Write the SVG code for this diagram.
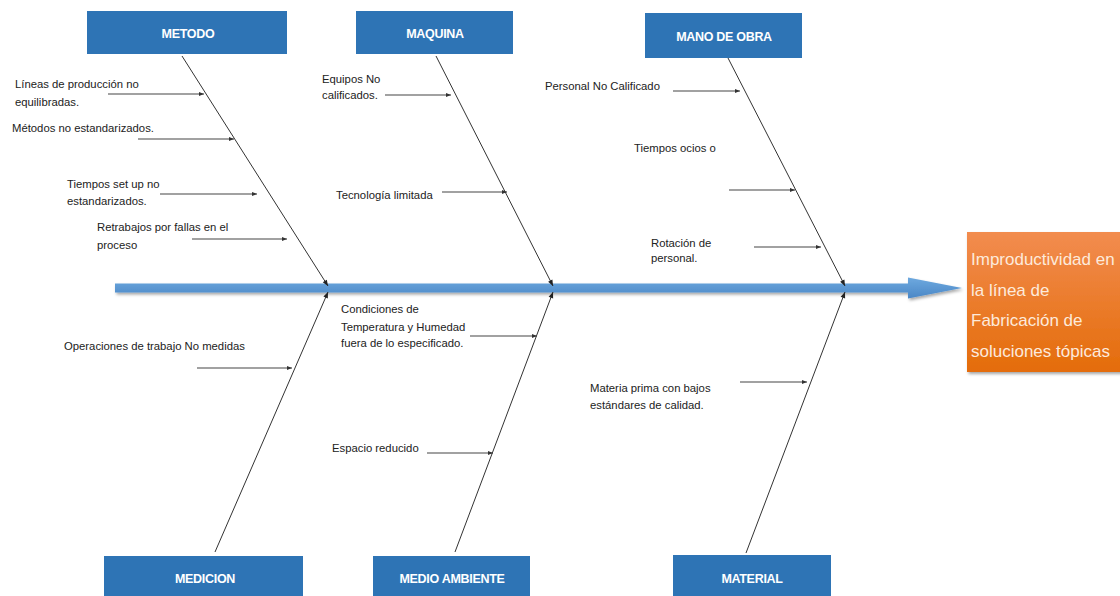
<svg xmlns="http://www.w3.org/2000/svg" width="1120" height="596" viewBox="0 0 1120 596">
<defs>
<style>
.cat{fill:#2e74b5;}
.cat-t{font-family:"Liberation Sans",Arial,sans-serif;font-weight:bold;font-size:12.5px;fill:#ffffff;text-anchor:middle;letter-spacing:-0.3px;}
.lbl{font-family:"Liberation Sans",Arial,sans-serif;font-size:11.3px;fill:#222222;}
.bone{stroke:#333333;stroke-width:1;fill:none;marker-end:url(#ah);}
.sub{stroke:#444444;stroke-width:1.2;fill:none;marker-end:url(#ah2);}
.eff{font-family:"Liberation Sans",Arial,sans-serif;font-size:17px;fill:#fdeadb;}
</style>
<marker id="ah" viewBox="0 0 10 10" refX="10" refY="5" markerWidth="8" markerHeight="6" markerUnits="userSpaceOnUse" orient="auto">
<path d="M0,1 L10,5 L0,9 Z" fill="#222222"/>
</marker>
<marker id="ah2" viewBox="0 0 10 10" refX="10" refY="5" markerWidth="9" markerHeight="5" markerUnits="userSpaceOnUse" orient="auto">
<path d="M0,1 L10,5 L0,9 Z" fill="#333333"/>
</marker>
<linearGradient id="spineG" x1="0" y1="0" x2="0" y2="1">
<stop offset="0" stop-color="#6ea9df"/>
<stop offset="1" stop-color="#4a87c6"/>
</linearGradient>
<linearGradient id="effG" x1="0" y1="0" x2="0" y2="1">
<stop offset="0" stop-color="#f28c4f"/>
<stop offset="1" stop-color="#e46c0a"/>
</linearGradient>
<filter id="sh" x="-5%" y="-20%" width="115%" height="160%">
<feDropShadow dx="1.5" dy="2" stdDeviation="1.5" flood-color="#000000" flood-opacity="0.35"/>
</filter>
</defs>
<rect width="1120" height="596" fill="#ffffff"/>

<g id="spine">
<path d="M115,283.5 L908,283.5 L908,277.5 L962,288 L908,298.5 L908,292.5 L115,292.5 Z" fill="url(#spineG)" filter="url(#sh)"/>
</g>

<g id="effect">
<rect x="967" y="232" width="170" height="140" fill="url(#effG)" filter="url(#sh)"/>
<text class="eff" x="971" y="265">Improductividad en</text>
<text class="eff" x="971" y="296">la línea de</text>
<text class="eff" x="971" y="326">Fabricación de</text>
<text class="eff" x="971" y="357">soluciones tópicas</text>
</g>

<g id="metodo">
<rect class="cat" x="87" y="11" width="200" height="43"/>
<text class="cat-t" x="188" y="38">METODO</text>
</g>
<g id="maquina">
<rect class="cat" x="356" y="11" width="157" height="43"/>
<text class="cat-t" x="435" y="38">MAQUINA</text>
</g>
<g id="mano-de-obra">
<rect class="cat" x="645" y="13" width="157" height="45"/>
<text class="cat-t" x="724" y="41">MANO DE OBRA</text>
</g>
<g id="medicion">
<rect class="cat" x="104" y="556" width="199" height="45"/>
<text class="cat-t" x="205" y="583">MEDICION</text>
</g>
<g id="medio-ambiente">
<rect class="cat" x="373" y="556" width="157" height="45"/>
<text class="cat-t" x="452" y="583">MEDIO AMBIENTE</text>
</g>
<g id="material">
<rect class="cat" x="673" y="555" width="158" height="45"/>
<text class="cat-t" x="752" y="583">MATERIAL</text>
</g>

<g id="connectors">
<line class="bone" x1="182" y1="56" x2="328" y2="286"/>
<line class="bone" x1="436" y1="56" x2="553" y2="286"/>
<line class="bone" x1="728" y1="58" x2="845" y2="286"/>
<line class="bone" x1="215" y1="552" x2="328" y2="292"/>
<line class="bone" x1="455" y1="552" x2="553" y2="292"/>
<line class="bone" x1="746" y1="553" x2="845" y2="292"/>

<line class="sub" x1="108" y1="94" x2="204" y2="94"/>
<line class="sub" x1="138" y1="139" x2="234" y2="139"/>
<line class="sub" x1="160" y1="194" x2="257" y2="194"/>
<line class="sub" x1="192" y1="239" x2="287" y2="239"/>
<line class="sub" x1="385" y1="95" x2="451" y2="95"/>
<line class="sub" x1="442" y1="192" x2="507" y2="192"/>
<line class="sub" x1="673" y1="91" x2="740" y2="91"/>
<line class="sub" x1="729" y1="190" x2="795" y2="190"/>
<line class="sub" x1="754" y1="247" x2="821" y2="247"/>
<line class="sub" x1="197" y1="368" x2="292" y2="368"/>
<line class="sub" x1="470" y1="336" x2="537" y2="336"/>
<line class="sub" x1="427" y1="453" x2="493" y2="453"/>
<line class="sub" x1="740" y1="382" x2="807" y2="382"/>
</g>

<g id="labels">
<text class="lbl" x="15" y="88">Líneas de producción no</text>
<text class="lbl" x="15" y="106">equilibradas.</text>
<text class="lbl" x="12" y="132">Métodos no estandarizados.</text>
<text class="lbl" x="67" y="188">Tiempos set up no</text>
<text class="lbl" x="67" y="205">estandarizados.</text>
<text class="lbl" x="97" y="231">Retrabajos por fallas en el</text>
<text class="lbl" x="97" y="249">proceso</text>
<text class="lbl" x="322" y="83">Equipos No</text>
<text class="lbl" x="322" y="99">calificados.</text>
<text class="lbl" x="336" y="199">Tecnología limitada</text>
<text class="lbl" x="545" y="90">Personal No Calificado</text>
<text class="lbl" x="634" y="152">Tiempos ocios o</text>
<text class="lbl" x="651" y="247">Rotación de</text>
<text class="lbl" x="651" y="262">personal.</text>
<text class="lbl" x="64" y="350">Operaciones de trabajo No medidas</text>
<text class="lbl" x="341" y="313">Condiciones de</text>
<text class="lbl" x="341" y="331">Temperatura y Humedad</text>
<text class="lbl" x="341" y="347">fuera de lo especificado.</text>
<text class="lbl" x="332" y="452">Espacio reducido</text>
<text class="lbl" x="590" y="392">Materia prima con bajos</text>
<text class="lbl" x="590" y="409">estándares de calidad.</text>
</g>
</svg>
